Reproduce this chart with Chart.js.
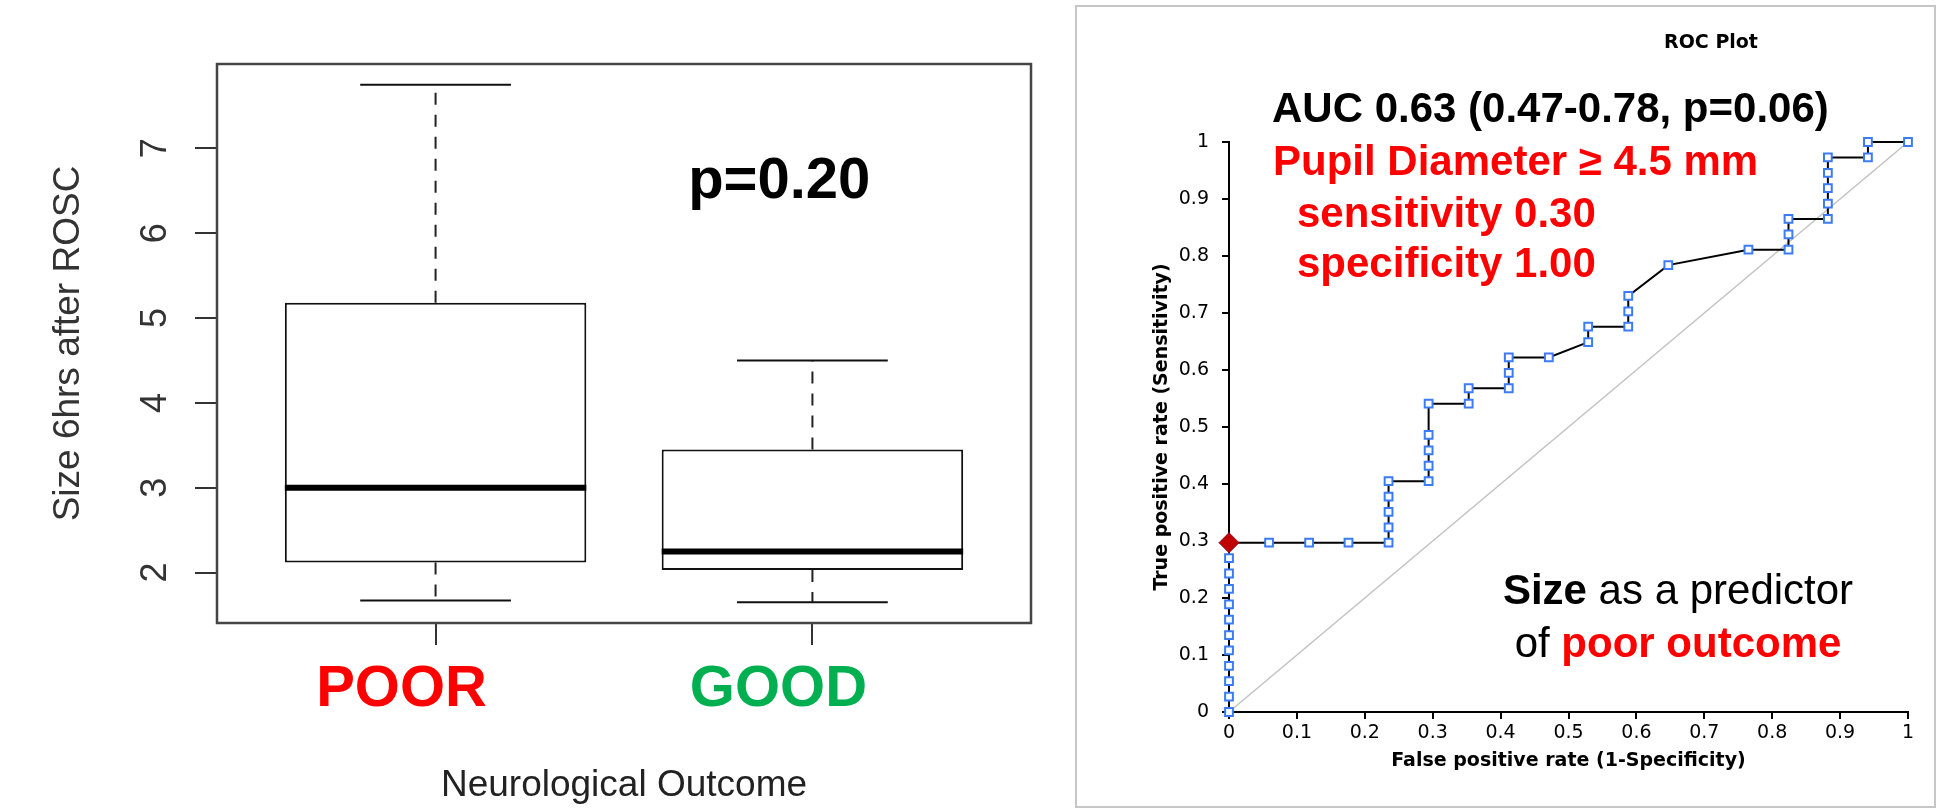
<!DOCTYPE html>
<html><head><meta charset="utf-8">
<script src="https://cdn.jsdelivr.net/npm/chart.js@4.4.1/dist/chart.umd.min.js"></script>
<style>
html,body{margin:0;padding:0;background:#fff;width:1938px;height:810px;overflow:hidden;}
#left{position:absolute;left:0;top:0;width:1070px;height:810px;}
#right{position:absolute;left:1070px;top:0;width:868px;height:810px;}
#frame{position:absolute;left:1075px;top:5px;width:861px;height:803px;border:2px solid #c6c6c6;box-sizing:border-box;}
canvas{display:block;}
</style></head><body>
<div id="frame"></div>
<div id="left"><canvas id="c1" width="1070" height="810" style="width:1070px;height:810px"></canvas></div>
<div id="right"><canvas id="c2" width="868" height="810" style="width:868px;height:810px"></canvas></div>
<script>
// ---------- Box plot data (pupil size 6 hrs after ROSC) ----------
const groups = ['POOR', 'GOOD'];
const groupColors = ['#ff0000', '#00b050'];
const whiskerLow = [1.67, 1.65];
const q1 = [2.12, 2.03];
const median = [3.0, 2.25];
const q3 = [5.18, 3.45];
const whiskerHigh = [7.75, 4.5];
const sizeTicks = [2, 3, 4, 5, 6, 7];
const pValueText = 'p=0.20';

// ---------- ROC data ----------
const fpr = [0,0,0,0,0,0,0,0,0,0,0,0,
  0.059,0.118,0.176,0.235,0.235,0.235,0.235,0.235,
  0.294,0.294,0.294,0.294,0.294,0.353,0.353,
  0.412,0.412,0.412,0.471,0.529,0.529,0.588,0.588,0.588,
  0.647,0.765,0.824,0.824,0.824,0.882,0.882,0.882,0.882,0.882,
  0.941,0.941,1.0];
const tpr = [0,0.027,0.054,0.081,0.108,0.135,0.162,0.189,0.216,0.243,0.270,0.297,
  0.297,0.297,0.297,0.297,0.324,0.351,0.378,0.405,
  0.405,0.432,0.459,0.486,0.541,0.541,0.568,
  0.568,0.595,0.622,0.622,0.649,0.676,0.676,0.703,0.730,
  0.784,0.811,0.811,0.838,0.865,0.865,0.892,0.919,0.946,0.973,
  0.973,1.0,1.0];
const cutoffFpr = [0];
const cutoffTpr = [0.297];
const rocTicks = [0,0.1,0.2,0.3,0.4,0.5,0.6,0.7,0.8,0.9,1];
const rocTickLabels = ['0','0.1','0.2','0.3','0.4','0.5','0.6','0.7','0.8','0.9','1'];

// ---------- Left chart: box plot ----------
const LS = '"Liberation Sans", Arial, Helvetica, sans-serif';
const positions = groups.map((g, i) => i + 1);
const BOX_HALF = 0.4, CAP_HALF = 0.2;
const brk = x => ({x: x, y: null});

const boxData = positions.map((x, i) => ({x: x, y: [q1[i], q3[i]]}));
const whiskerData = [];
const capData = [];
const medianData = [];
positions.forEach((x, i) => {
  whiskerData.push({x, y: q3[i]}, {x, y: whiskerHigh[i]}, brk(x));
  whiskerData.push({x, y: q1[i]}, {x, y: whiskerLow[i]}, brk(x));
  capData.push({x: x - CAP_HALF, y: whiskerHigh[i]}, {x: x + CAP_HALF, y: whiskerHigh[i]}, brk(x));
  capData.push({x: x - CAP_HALF, y: whiskerLow[i]}, {x: x + CAP_HALF, y: whiskerLow[i]}, brk(x));
  medianData.push({x: x - BOX_HALF, y: median[i]}, {x: x + BOX_HALF, y: median[i]}, brk(x));
});

const leftDeco = {
  id: 'leftDeco',
  afterDatasetsDraw(chart) {
    const {ctx, chartArea: a, scales: {x, y}} = chart;
    ctx.save();
    ctx.strokeStyle = '#454545';
    ctx.lineWidth = 2.5;
    ctx.strokeRect(a.left, a.top, a.right - a.left, a.bottom - a.top);
    ctx.fillStyle = '#000';
    ctx.font = 'bold 58px ' + LS;
    ctx.textAlign = 'center';
    ctx.textBaseline = 'alphabetic';
    ctx.fillText(pValueText, x.getPixelForValue(1.912), y.getPixelForValue(6.42));
    ctx.restore();
  }
};

new Chart(document.getElementById('c1'), {
  type: 'bar',
  data: {
    datasets: [
      {type: 'line', data: medianData, borderColor: '#000', borderWidth: 6, pointRadius: 0, spanGaps: false, order: 0, borderCapStyle: 'butt'},
      {type: 'line', data: capData, borderColor: '#111', borderWidth: 2, pointRadius: 0, spanGaps: false, order: 1},
      {type: 'line', data: whiskerData, borderColor: '#222', borderWidth: 2, borderDash: [12, 10], pointRadius: 0, spanGaps: false, order: 3},
      {type: 'bar', data: boxData, backgroundColor: '#fff', borderColor: '#111', borderWidth: 2,
       borderSkipped: false, categoryPercentage: 0.8, barPercentage: 1.0, order: 2}
    ]
  },
  options: {
    responsive: false, animation: false,
    layout: {padding: {left: 0, top: 64, right: 39, bottom: 0}},
    plugins: {legend: {display: false}, tooltip: {enabled: false}},
    scales: {
      x: {
        type: 'linear', min: 0.42, max: 2.58, offset: false,
        afterBuildTicks: s => { s.ticks = positions.map(v => ({value: v})); },
        afterFit: s => { s.height = 187; },
        grid: {offset: false, drawOnChartArea: false, drawTicks: true, tickLength: 22, color: '#333', lineWidth: 2},
        border: {display: false},
        ticks: {
          callback: (v, i) => groups[i], autoSkip: false, maxRotation: 0, minRotation: 0,
          color: c => groupColors[c.index], labelOffset: -34, padding: 10,
          font: {family: LS, size: 58, weight: 'bold'}
        },
        title: {display: true, text: 'Neurological Outcome', color: '#222',
          font: {family: LS, size: 37}, padding: {top: 0, bottom: 2}}
      },
      y: {
        type: 'linear', min: 1.406, max: 7.994,
        afterBuildTicks: s => { s.ticks = sizeTicks.map(v => ({value: v})); },
        afterFit: s => { s.width = 217; },
        grid: {drawOnChartArea: false, drawTicks: true, tickLength: 22, color: '#333', lineWidth: 2},
        border: {display: false},
        ticks: {
          callback: v => String(v), minRotation: 90, maxRotation: 90, crossAlign: 'center',
          padding: 29, color: '#333', font: {family: LS, size: 36}
        },
        title: {display: true, text: 'Size 6hrs after ROSC', color: '#333',
          font: {family: LS, size: 37}, padding: {top: 47, bottom: 0}}
      }
    }
  },
  plugins: [leftDeco]
});

// ---------- Right chart: ROC ----------
const DJ = '"DejaVu Sans", sans-serif';
const rocPoints = fpr.map((x, i) => ({x: x, y: tpr[i]}));
const cutoffPoints = cutoffFpr.map((x, i) => ({x: x, y: cutoffTpr[i]}));

const rightDeco = {
  id: 'rightDeco',
  afterDraw(chart) {
    const ctx = chart.ctx;
    ctx.save();
    ctx.textBaseline = 'alphabetic';
    ctx.fillStyle = '#000';
    ctx.font = 'bold 19px ' + DJ;
    ctx.textAlign = 'center';
    ctx.fillText('ROC Plot', 641, 48);

    ctx.textAlign = 'left';
    ctx.font = 'bold 42px ' + LS;
    ctx.fillStyle = '#000';
    ctx.fillText('AUC 0.63 (0.47-0.78, p=0.06)', 202, 122);
    ctx.fillStyle = '#ff0000';
    ctx.fillText('Pupil Diameter \u2265 4.5 mm', 203, 175);
    ctx.fillText('sensitivity 0.30', 227, 227);
    ctx.fillText('specificity 1.00', 227, 277);

    function mixed(parts, cx, by) {
      let total = 0;
      parts.forEach(p => { ctx.font = p.font; total += ctx.measureText(p.t).width; });
      let x = cx - total / 2;
      parts.forEach(p => { ctx.font = p.font; ctx.fillStyle = p.c; ctx.fillText(p.t, x, by); x += ctx.measureText(p.t).width; });
    }
    mixed([{t: 'Size', font: 'bold 42px ' + LS, c: '#000'}, {t: ' as a predictor', font: '42px ' + LS, c: '#000'}], 608, 604);
    mixed([{t: 'of ', font: '42px ' + LS, c: '#000'}, {t: 'poor outcome', font: 'bold 42px ' + LS, c: '#ff0000'}], 608, 657);
    ctx.restore();
  }
};

new Chart(document.getElementById('c2'), {
  type: 'scatter',
  data: {
    datasets: [
      {data: cutoffPoints, pointStyle: 'rectRot', pointRadius: 10, pointBackgroundColor: '#c00000',
       pointBorderColor: '#8a1030', pointBorderWidth: 1, showLine: false, clip: false, order: 0},
      {data: rocPoints, showLine: true, borderColor: '#000', borderWidth: 2, pointStyle: 'rect',
       pointRadius: 5.5, pointBackgroundColor: '#fff', pointBorderColor: '#3b7bf5', pointBorderWidth: 2,
       clip: false, order: 1},
      {data: [{x: 0, y: 0}, {x: 1, y: 1}], showLine: true, borderColor: '#c3c3c3', borderWidth: 1.6,
       pointRadius: 0, clip: false, order: 2}
    ]
  },
  options: {
    responsive: false, animation: false,
    layout: {padding: {left: 0, top: 142, right: 30, bottom: 0}},
    plugins: {legend: {display: false}, tooltip: {enabled: false}},
    scales: {
      x: {
        type: 'linear', min: 0, max: 1,
        afterBuildTicks: s => { s.ticks = rocTicks.map(v => ({value: v})); },
        afterFit: s => { s.height = 98; },
        grid: {drawOnChartArea: false, drawTicks: true, tickLength: 7, color: '#000', lineWidth: 2},
        border: {display: true, color: '#000', width: 2},
        ticks: {callback: (v, i) => rocTickLabels[i], autoSkip: false, maxRotation: 0, padding: 3,
          color: '#000', font: {family: DJ, size: 19}},
        title: {display: true, text: 'False positive rate (1-Specificity)', color: '#000',
          font: {family: DJ, size: 19, weight: 'bold'}, padding: {top: 0, bottom: 38}}
      },
      y: {
        type: 'linear', min: 0, max: 1,
        afterBuildTicks: s => { s.ticks = rocTicks.map(v => ({value: v})); },
        afterFit: s => { s.width = 159; },
        grid: {drawOnChartArea: false, drawTicks: true, tickLength: 7, color: '#000', lineWidth: 2},
        border: {display: true, color: '#000', width: 2},
        ticks: {callback: (v, i) => rocTickLabels[i], padding: 13, color: '#000', font: {family: DJ, size: 19}},
        title: {display: true, text: 'True positive rate (Sensitivity)', color: '#000',
          font: {family: DJ, size: 19, weight: 'bold'}, padding: {top: 81, bottom: 0}}
      }
    }
  },
  plugins: [rightDeco]
});
</script>
</body></html>
